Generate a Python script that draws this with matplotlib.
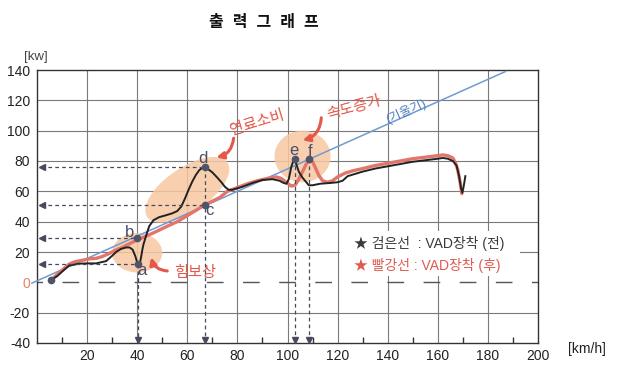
import numpy as np
import matplotlib
matplotlib.use('Agg')
import matplotlib.pyplot as plt
from matplotlib.patches import Ellipse, Polygon

plt.rcParams['font.family'] = ['Liberation Sans', 'Noto Sans CJK KR', 'DejaVu Sans']

# 검은선 : VAD 장착 전
black_x = [5.6, 8, 10, 12.8, 16.8, 20, 23.6, 27.6, 30, 31.6, 33.5, 35.6, 37, 38.2, 39.3, 40, 40.5,
           41, 41.6, 42, 42.5, 43.6, 44.8, 46.5, 48.8, 51, 54, 56, 57.6, 59, 60.5, 62, 63.5, 64.8,
           66.4, 68, 70, 72, 73.6, 75, 76.5, 78, 82, 86, 90, 94, 96.8, 98.5, 99.6, 100.5, 101.5,
           102.6, 103.5, 104.5, 106, 107.5, 108.5, 110, 113, 117, 120, 122, 124, 127, 130, 135,
           140, 145, 150, 155, 160, 162, 164, 166, 167.5, 168.5, 169.3, 169.8, 170.3, 171]
black_y = [1.5, 4, 7, 11, 12.3, 12.5, 12.5, 14, 17.5, 20, 22, 23, 23, 21.5, 17, 13, 11,
           12, 17, 21, 25, 31, 37, 41, 43, 44, 45.5, 47, 50, 55, 61, 66.5, 71, 74,
           76, 75, 72.5, 69, 66, 63, 61, 61, 63, 65.5, 67.5, 68, 67, 65.5, 65, 68, 76,
           81.5, 78, 73, 69, 66, 64, 64, 65, 65.5, 66, 67, 70, 71.5, 73, 75,
           76.5, 78, 79.5, 80.5, 81.5, 82, 81.5, 80, 77, 70, 62, 59, 63, 70]

# 빨강선 : VAD 장착 후
red_x = [5.6, 7.6, 10, 12.8, 15, 18, 21, 23.6, 26, 28.8, 31, 34, 37, 40, 43, 47.6, 52, 56, 60,
         64, 67, 70, 73, 76, 80, 84, 88, 92, 95.5, 97.5, 99.5, 101.5, 103, 104.5, 106, 107.5,
         108.8, 110, 111, 112.5, 114, 116, 118, 120, 123, 126, 130, 135, 140, 145, 150, 155,
         160, 162, 164, 166, 167, 168, 169, 169.6]
red_y = [1.5, 4.5, 8, 12, 13.5, 14.5, 15.5, 15.8, 17, 19, 21, 23, 25.5, 28, 30, 33.5, 37, 40, 44,
         48, 51, 53.5, 56, 60, 62.5, 65, 67, 68.5, 69.5, 68.5, 66, 63.5, 64, 68, 73, 78,
         81, 79.5, 76, 70.5, 67, 66, 67, 69.5, 72, 73.5, 75, 77, 78.5, 80, 81.5, 82.5,
         83.5, 84, 83.5, 82, 79, 74, 65, 58.5]

# 기울기 선
slope_x = [-2, 187]
slope_y = [-0.5, 139]

# 표시점 a~f
pt_names = ['a', 'b', 'c', 'd', 'e', 'f']
pt_x = [40.3, 40, 67, 67, 102.8, 108.6]
pt_y = [12.3, 29.5, 51, 76, 81.5, 81]

x_ticks = list(range(0, 201, 20))
y_ticks = list(range(-40, 141, 20))

fig = plt.figure(figsize=(6.2, 3.75), dpi=100)
ax = fig.add_axes([37 / 620, 1 - 343 / 375, (538 - 37) / 620, (343 - 70) / 375])
ax.set_xlim(0, 200)
ax.set_ylim(-40, 140)

grid_c = '#7a7a7a'
for gx in x_ticks[1:-1]:
    ax.axvline(gx, color=grid_c, lw=0.8, zorder=1)
for gy in y_ticks[1:-1]:
    if gy != 0:
        ax.axhline(gy, color=grid_c, lw=0.8, zorder=1)
ax.axhline(0, color='#555555', lw=1.0, ls=(8, (12, 14)), zorder=1)

# 강조 영역
peach = '#f7c8a3'
ax.add_patch(Ellipse((40, 19.5), 20, 26, color=peach, alpha=0.85, lw=0, zorder=2))
ax.add_patch(Ellipse((106, 83), 22.4, 34, color=peach, alpha=0.85, lw=0, zorder=2))
t = np.linspace(0, 2 * np.pi, 100)
cx, cy = 60, 61
ell = np.column_stack([cx + 16 * np.cos(t) + 5 * np.sin(t), cy + 18 * np.cos(t) - 12 * np.sin(t)])
ax.add_patch(Polygon(ell, closed=True, color=peach, alpha=0.85, lw=0, zorder=2))

# 범례 배경
ax.add_patch(plt.Rectangle((121, 4), 72, 30, color='white', lw=0, zorder=2))

ax.plot(slope_x, slope_y, color='#6f9bd3', lw=1.1, zorder=3, clip_on=False)
ax.plot(red_x, red_y, color='#e2766a', lw=2.4, zorder=4, solid_capstyle='round')
ax.plot(black_x, black_y, color='#222222', lw=1.4, zorder=5)
ax.plot([5.6], [1.5], 'o', color='#50546a', ms=4.5, zorder=6)

# 점선 화살표
dash_c = '#464a5e'
for i in [0, 1, 2, 3]:
    ax.plot([1.5, pt_x[i]], [pt_y[i], pt_y[i]], color=dash_c, lw=0.9, ls=(0, (3, 2.5)), zorder=6)
    ax.plot(1.8, pt_y[i], marker='<', color=dash_c, ms=4, zorder=6)
for i in [0, 3, 4, 5]:
    ax.plot([pt_x[i], pt_x[i]], [pt_y[i], -38.5], color=dash_c, lw=0.9, ls=(0, (3, 2.5)), zorder=6)
    ax.plot(pt_x[i], -37.8, marker='v', color=dash_c, ms=4, zorder=6)

ax.plot(pt_x, pt_y, 'o', color='#50546a', ms=4.5, zorder=7)
lab_dx = [1.5, -3.2, 1.8, -0.6, -0.4, 0.6]
lab_dy = [-4.5, 3.5, -3.5, 5.5, 5.5, 5.5]
for name, px, py, dx, dy in zip(pt_names, pt_x, pt_y, lab_dx, lab_dy):
    ax.text(px + dx, py + dy, name, color='#4a4e66', fontsize=12, ha='center', va='center', zorder=8)

# 주석
red_txt = '#e5574a'
arrow_kw = dict(arrowstyle='-|>', color=red_txt, lw=2.2, mutation_scale=10, shrinkA=0, shrinkB=0)
ax.annotate('', xy=(71.6, 82.4), xytext=(78.5, 95),
            arrowprops=dict(arrow_kw, connectionstyle='arc3,rad=-0.35'), zorder=8)
ax.annotate('', xy=(106, 93.6), xytext=(113.5, 108.5),
            arrowprops=dict(arrow_kw, connectionstyle='arc3,rad=-0.35'), zorder=8)
ax.annotate('', xy=(45.6, 16.5), xytext=(52, 7.5),
            arrowprops=dict(arrow_kw, connectionstyle='arc3,rad=-0.35'), zorder=8)
ax.text(88, 105, '연료소비', color=red_txt, fontsize=11, rotation=17,
        ha='center', va='center', zorder=8)
ax.text(126.5, 115, '속도증가', color=red_txt, fontsize=11, rotation=15,
        ha='center', va='center', zorder=8)
ax.text(63, 6.5, '힘보상', color=red_txt, fontsize=11, ha='center', va='center', zorder=8)
ax.text(147.5, 113, '(기울기)', color='#4f7fc0', fontsize=9, rotation=24,
        ha='center', va='center', zorder=8)

ax.text(126.5, 25.5, '★ 검은선  : VAD장착 (전)', color='#3a3a3a', fontsize=10, ha='left',
        va='center', zorder=8)
ax.text(126.5, 10.8, '★ 빨강선 : VAD장착 (후)', color='#de5a50', fontsize=10, ha='left',
        va='center', zorder=8)

ax.set_xticks(x_ticks)
ax.set_xticklabels([''] + [str(v) for v in x_ticks[1:]])
ax.set_yticks(y_ticks)
ax.set_yticklabels([str(v) for v in y_ticks])
ax.set_xticks(np.arange(10, 200, 20), minor=True)
ax.tick_params(which='major', length=0, labelsize=10, colors='#222222')
ax.tick_params(axis='y', pad=5)
ax.tick_params(axis='x', pad=4)
ax.tick_params(which='minor', direction='in', length=4, width=1, color='#333333')
ax.get_yticklabels()[2].set_color('#e8806a')
for s in ax.spines.values():
    s.set_color('#333333')
    s.set_linewidth(1.0)

fig.text(36 / 620, 1 - 57 / 375, '[kw]', fontsize=9.5, color='#444444', ha='center', va='center')
fig.text(587 / 620, 1 - 349 / 375, '[km/h]', fontsize=10, color='#222222', ha='center', va='center')
fig.text(264 / 620, 1 - 23 / 375, '출  력  그  래  프', fontsize=11.5, color='#111111',
         ha='center', va='center', fontweight='bold')

fig.savefig('out.png', dpi=100)
